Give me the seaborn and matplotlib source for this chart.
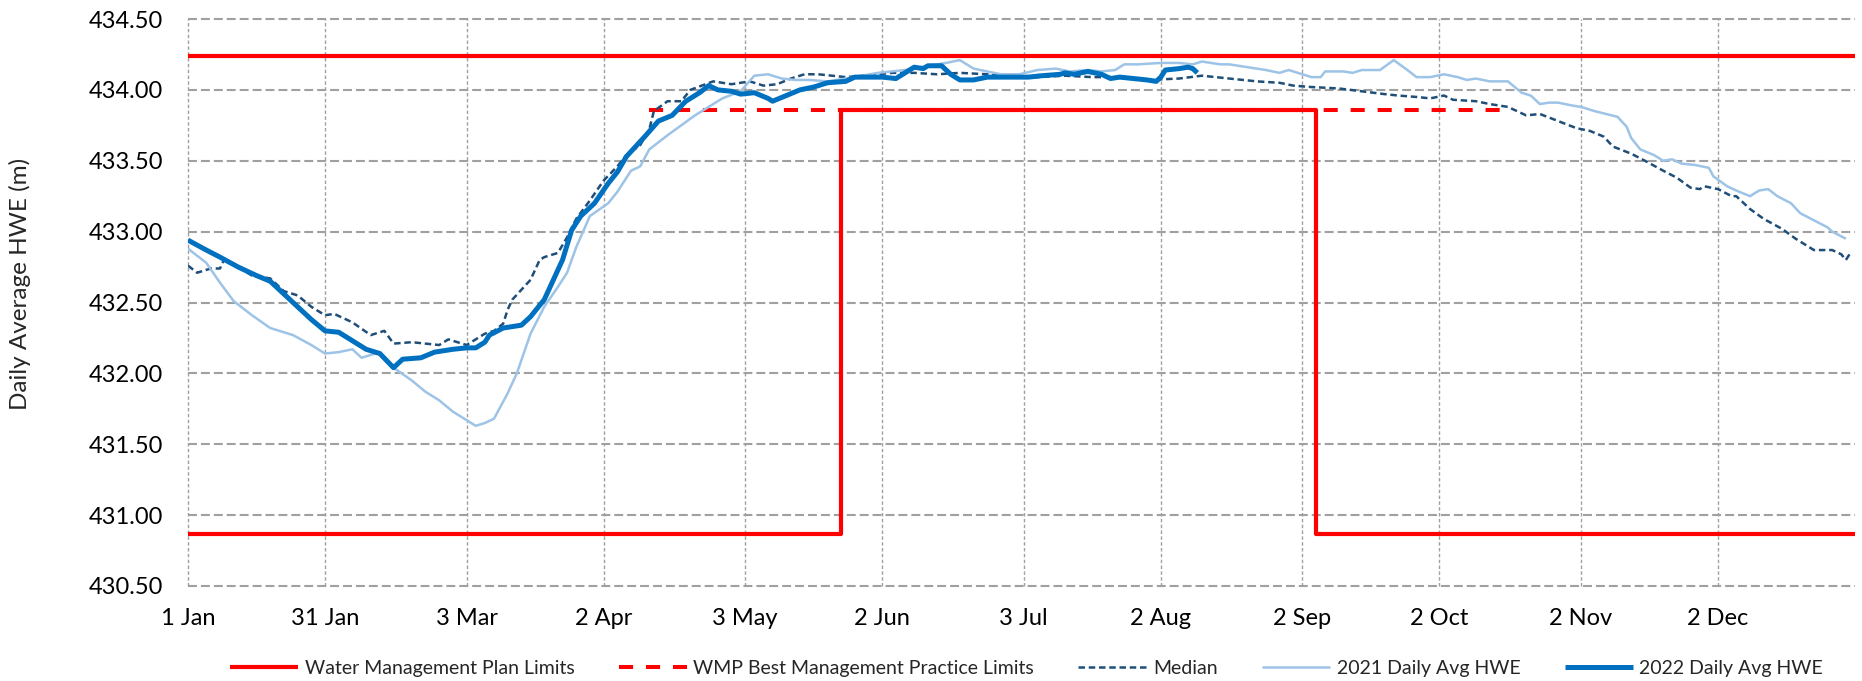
# -*- coding: utf-8 -*-
"""
Daily average HWE vs. Water Management Plan limits (2021 / 2022 / median)
"""
import numpy as np
import pandas as pd
import matplotlib
matplotlib.use('Agg')
import matplotlib.pyplot as plt
import seaborn as sns

# ---------------------------------------------------------------
# data (day of year, 0 = 1 Jan)
# ---------------------------------------------------------------
tick_days = [0, 30, 61, 91, 122, 152, 183, 213, 244, 274, 305, 335]
tick_labels = ['1 Jan', '31 Jan', '3 Mar', '2 Apr', '3 May', '2 Jun',
               '3 Jul', '2 Aug', '2 Sep', '2 Oct', '2 Nov', '2 Dec']

# WMP limits: upper limit all year, lower limit steps up in summer
wmp_upper_day = [0, 365]
wmp_upper_level = [434.24, 434.24]
wmp_lower_day = [0, 143, 143, 247, 247, 365]
wmp_lower_level = [430.87, 430.87, 433.86, 433.86, 430.87, 430.87]

# WMP best management practice
bmp_day = [101, 288]
bmp_level = [433.86, 433.86]

median_day = [0, 2, 5, 7, 8, 11, 14, 18, 21, 24, 27, 30, 32, 36, 40, 43, 45,
              49, 52, 55, 57, 61, 64, 65, 67, 69, 70, 71, 73, 75, 77, 78, 81,
              83, 85, 88, 91, 94, 96, 99, 101, 102, 105, 108, 110, 115, 119,
              123, 126, 129, 132, 135, 138, 144, 148, 154, 159, 164, 169, 175,
              180, 186, 192, 198, 202, 210, 217, 222, 228, 234, 239, 242, 246,
              252, 257, 262, 265, 269, 272, 275, 277, 282, 285, 289, 291, 293,
              296, 300, 304, 307, 310, 312, 316, 319, 323, 326, 329, 331, 332,
              335, 338, 339, 342, 345, 349, 352, 356, 360, 362, 363, 364]
median_hwe = [432.76, 432.71, 432.74, 432.74, 432.81, 432.75, 432.69, 432.67,
              432.58, 432.55, 432.47, 432.41, 432.42, 432.36, 432.27, 432.30,
              432.21, 432.22, 432.21, 432.20, 432.24, 432.20, 432.26, 432.28,
              432.30, 432.35, 432.45, 432.52, 432.59, 432.66, 432.80, 432.82,
              432.85, 432.96, 433.09, 433.22, 433.36, 433.46, 433.54, 433.61,
              433.72, 433.85, 433.92, 433.92, 434.00, 434.06, 434.04, 434.06,
              434.03, 434.04, 434.08, 434.11, 434.11, 434.09, 434.10, 434.12,
              434.12, 434.11, 434.12, 434.11, 434.10, 434.09, 434.10, 434.09,
              434.09, 434.07, 434.08, 434.10, 434.08, 434.06, 434.05, 434.03,
              434.02, 434.01, 433.99, 433.97, 433.96, 433.95, 433.94, 433.96,
              433.93, 433.92, 433.90, 433.88, 433.85, 433.82, 433.83, 433.78,
              433.73, 433.71, 433.67, 433.60, 433.55, 433.50, 433.43, 433.38,
              433.31, 433.30, 433.32, 433.30, 433.25, 433.25, 433.16, 433.09,
              433.02, 432.95, 432.87, 432.87, 432.84, 432.80, 432.85]

hwe2021_day = [0, 4, 7, 10, 14, 18, 23, 27, 30, 33, 36, 38, 42, 45, 49, 52, 55,
               58, 61, 63, 65, 67, 69, 70, 72, 75, 78, 81, 83, 85, 88, 92, 94,
               97, 99, 101, 105, 108, 111, 114, 117, 121, 124, 127, 130, 133,
               136, 140, 146, 151, 157, 162, 166, 169, 172, 175, 178, 182, 186,
               190, 193, 197, 200, 203, 205, 208, 213, 217, 220, 222, 226, 228,
               232, 236, 239, 241, 244, 246, 248, 249, 253, 255, 257, 261, 264,
               267, 269, 272, 275, 278, 280, 282, 285, 289, 292, 294, 296, 298,
               300, 303, 305, 308, 313, 315, 316, 318, 321, 323, 325, 327, 330,
               333, 334, 337, 339, 342, 344, 346, 348, 351, 353, 356, 359, 360,
               363]
hwe2021 = [432.88, 432.78, 432.64, 432.51, 432.41, 432.32, 432.27, 432.20,
           432.14, 432.15, 432.17, 432.11, 432.15, 432.04, 431.95, 431.87,
           431.81, 431.73, 431.67, 431.63, 431.65, 431.68, 431.80, 431.86,
           432.00, 432.28, 432.47, 432.61, 432.71, 432.89, 433.11, 433.20,
           433.28, 433.43, 433.46, 433.58, 433.68, 433.75, 433.82, 433.88,
           433.94, 433.99, 434.10, 434.11, 434.08, 434.07, 434.07, 434.06,
           434.09, 434.12, 434.14, 434.17, 434.19, 434.21, 434.15, 434.13,
           434.11, 434.11, 434.14, 434.15, 434.13, 434.14, 434.13, 434.14,
           434.18, 434.18, 434.19, 434.19, 434.18, 434.20, 434.18, 434.18,
           434.16, 434.14, 434.12, 434.14, 434.11, 434.09, 434.09, 434.13,
           434.13, 434.12, 434.14, 434.14, 434.21, 434.14, 434.09, 434.09,
           434.11, 434.09, 434.07, 434.08, 434.06, 434.06, 433.98, 433.96,
           433.90, 433.91, 433.91, 433.89, 433.88, 433.85, 433.81, 433.74,
           433.66, 433.58, 433.54, 433.50, 433.51, 433.48, 433.47, 433.45,
           433.39, 433.32, 433.29, 433.25, 433.29, 433.30, 433.25, 433.20,
           433.13, 433.08, 433.03, 433.00, 432.95]

hwe2022_day = [0, 4, 7, 11, 15, 18, 21, 24, 27, 30, 33, 36, 39, 42, 45, 47, 51,
               54, 58, 61, 63, 65, 66, 69, 71, 73, 75, 78, 80, 82, 84, 86, 89,
               92, 94, 96, 98, 100, 103, 106, 109, 112, 114, 116, 119, 121, 124,
               127, 128, 131, 134, 137, 140, 144, 146, 150, 152, 155, 159, 161,
               162, 165, 167, 169, 172, 175, 177, 181, 184, 187, 191, 192, 194,
               197, 200, 202, 204, 207, 210, 212, 213, 214, 217, 219, 220, 221]
hwe2022 = [432.94, 432.87, 432.82, 432.75, 432.69, 432.65, 432.56, 432.47,
           432.38, 432.30, 432.29, 432.23, 432.17, 432.14, 432.04, 432.10,
           432.11, 432.15, 432.17, 432.18, 432.18, 432.22, 432.27, 432.32,
           432.33, 432.34, 432.40, 432.52, 432.66, 432.80, 433.01, 433.11,
           433.20, 433.34, 433.42, 433.53, 433.60, 433.67, 433.78, 433.82,
           433.92, 433.98, 434.03, 434.00, 433.99, 433.97, 433.98, 433.94,
           433.92, 433.96, 434.00, 434.02, 434.05, 434.06, 434.09, 434.09,
           434.09, 434.08, 434.16, 434.15, 434.17, 434.17, 434.11, 434.07,
           434.07, 434.09, 434.09, 434.09, 434.09, 434.10, 434.11, 434.12,
           434.11, 434.13, 434.11, 434.08, 434.09, 434.08, 434.07, 434.06,
           434.09, 434.14, 434.15, 434.16, 434.15, 434.12]

# ---------------------------------------------------------------
# style
# ---------------------------------------------------------------
sns.set_style('white')
plt.rcParams['font.family'] = ['Lato', 'DejaVu Sans']

RED = '#FF0000'
C_MEDIAN = '#1F4E79'
C_2021 = '#9DC3E6'
C_2022 = '#0070C0'

fig = plt.figure(figsize=(18.62, 6.81), dpi=100)
ax = fig.add_axes([188 / 1862, 1 - 586 / 681, (1855 - 188) / 1862, (586 - 19) / 681])

# limits
sns.lineplot(x=wmp_upper_day, y=wmp_upper_level, ax=ax, color=RED, lw=3.0,
             estimator=None, sort=False, label='Water Management Plan Limits')
sns.lineplot(x=wmp_lower_day, y=wmp_lower_level, ax=ax, color=RED, lw=3.0,
             estimator=None, sort=False)
sns.lineplot(x=bmp_day, y=bmp_level, ax=ax, color=RED, lw=2.9,
             estimator=None, sort=False,
             label='WMP Best Management Practice Limits')
ax.lines[-1].set_dashes((3.5, 3.2))

# series
sns.lineplot(x=median_day, y=median_hwe, ax=ax, color=C_MEDIAN, lw=1.8,
             estimator=None, sort=False, label='Median')
ax.lines[-1].set_dashes((2.6, 1.5))
sns.lineplot(x=hwe2021_day, y=hwe2021, ax=ax, color=C_2021, lw=1.8,
             estimator=None, sort=False, label='2021 Daily Avg HWE')
sns.lineplot(x=hwe2022_day, y=hwe2022, ax=ax, color=C_2022, lw=3.6,
             estimator=None, sort=False, label='2022 Daily Avg HWE')
for ln in ax.lines:
    ln.set_solid_capstyle('butt')

# axes
ax.set_xlim(0, 365)
ax.set_ylim(430.5, 434.5)
ax.set_xticks(tick_days)
ax.set_xticklabels(tick_labels)
yt = np.arange(430.5, 434.51, 0.5)
ax.set_yticks(yt)
ax.set_yticklabels([f'{v:.2f}' for v in yt])
ax.set_xlabel('')
ax.set_ylabel('')
for s in ax.spines.values():
    s.set_visible(False)

ax.set_axisbelow(True)
ax.yaxis.grid(True, color='#A0A0A0', lw=1.5, ls=(0, (4.3, 1.9)))
ax.xaxis.grid(True, color='#A0A0A0', lw=1.0, ls=(0, (2.5, 1.7)))
for g in ax.get_ygridlines() + ax.get_xgridlines():
    g.set_clip_on(False)

ax.tick_params(axis='both', length=0, labelsize=17, colors='black')
ax.tick_params(axis='y', pad=18)
ax.tick_params(axis='x', pad=16)

fig.text(20 / 1862, 1 - 284 / 681, 'Daily Average HWE (m)', rotation=90,
         ha='center', va='center', fontsize=17.5)

handles, labels = ax.get_legend_handles_labels()
ax.legend(handles, labels, loc='center', bbox_to_anchor=(0.503, -0.146),
          ncol=5, frameon=False, fontsize=14, handlelength=3.5,
          handletextpad=0.35, columnspacing=2.27)

plt.savefig('out.png', dpi=100)
plt.close()
